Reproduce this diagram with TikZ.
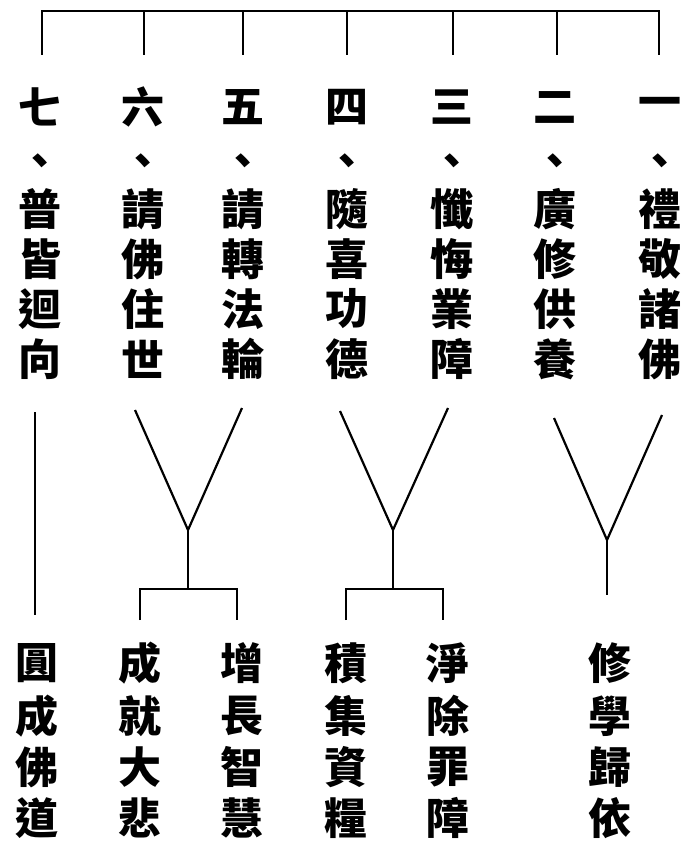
\documentclass[tikz,border=0pt]{standalone}
\usepackage{fontspec}
\newfontfamily\cjk{Noto Sans CJK TC}
\begin{document}
\begin{tikzpicture}[x=1pt,y=-1pt,
  ch/.style={font=\cjk\bfseries\fontsize{43}{43}\selectfont, inner sep=0pt, anchor=center},
  ln/.style={line width=2.2pt, line cap=butt, line join=miter}]
\useasboundingbox (0,0) rectangle (683,842);
% top text columns
\foreach \c/\x/\t in {1/40/{七,、,普,皆,迴,向},2/143/{六,、,請,佛,住,世},3/243/{五,、,請,轉,法,輪},4/347/{四,、,隨,喜,功,德},5/452/{三,、,懺,悔,業,障},6/555/{二,、,廣,修,供,養},7/660/{一,、,禮,敬,諸,佛}}{
  \foreach \s [count=\r] in \t {
    \pgfmathsetmacro{\yy}{{107,165,209,259,309,359}[\r-1]}
    \node[ch] (t\c-\r) at (\x,\yy) {\s};
  }
}
% bottom text columns
\foreach \c/\x/\t in {1/37/{圓,成,佛,道},2/140/{成,就,大,悲},3/242/{增,長,智,慧},4/346/{積,集,資,糧},5/448/{淨,除,罪,障},6/610/{修,學,歸,依}}{
  \foreach \s [count=\r] in \t {
    \pgfmathsetmacro{\yy}{{663,716,767,818}[\r-1]}
    \node[ch] (b\c-\r) at (\x,\yy) {\s};
  }
}
% top bracket
\coordinate (h1) at (42,11); \coordinate (h7) at (659,11);
\draw[ln] (42,55) -- (h1) -- (h7) -- (659,55);
\foreach \x in {144,243,347,453,557}{ \draw[ln] (\x,11) -- (\x,55); }
% left straight line
\coordinate (l1) at (35,412); \coordinate (l2) at (35,615);
\draw[ln] (l1) -- (l2);
% Y1
\coordinate (y1a) at (135,410); \coordinate (y1b) at (242,408); \coordinate (y1j) at (188,530); \coordinate (y1s) at (188,589);
\draw[ln] (y1a) -- (y1j) -- (y1b);
\draw[ln] (y1j) -- (y1s);
\draw[ln] (140,620) -- (140,589) -- (237,589) -- (237,620);
% Y2
\coordinate (y2a) at (340,411); \coordinate (y2b) at (448,408); \coordinate (y2j) at (393,530); \coordinate (y2s) at (393,589);
\draw[ln] (y2a) -- (y2j) -- (y2b);
\draw[ln] (y2j) -- (y2s);
\draw[ln] (346,620) -- (346,589) -- (443,589) -- (443,620);
% Y3
\coordinate (y3a) at (554,418); \coordinate (y3b) at (662,415); \coordinate (y3j) at (607,540); \coordinate (y3s) at (607,595);
\draw[ln] (y3a) -- (y3j) -- (y3b);
\draw[ln] (y3j) -- (y3s);
\end{tikzpicture}
\end{document}
